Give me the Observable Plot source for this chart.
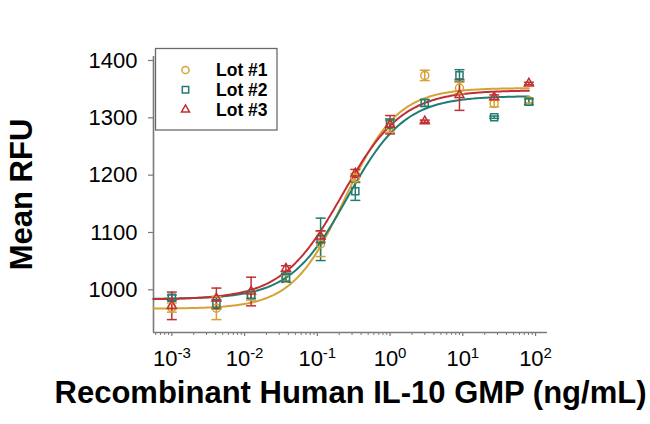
<!DOCTYPE html>
<html>
<head>
<meta charset="utf-8">
<script src="https://cdn.jsdelivr.net/npm/d3@7"></script>
<script src="https://cdn.jsdelivr.net/npm/@observablehq/plot@0.6"></script>
<style>
  html, body { margin: 0; padding: 0; background: white; }
</style>
</head>
<body>
<div id="chart"></div>
<script>
// ---- data ----
const conc = [0.001, 0.0041, 0.0123, 0.037, 0.111, 0.333, 1, 3, 9, 27, 81];
const lots = ["Lot #1", "Lot #2", "Lot #3"];
const lotColors = ["#D6A235", "#217C71", "#BF2F34"];
const lotSymbols = ["circle", "square", "triangle"];
const lotSymbolR = [4, 4, 3.3];

const lot1Mean = [969, 968, 990, 1020, 1080, 1195, 1285, 1374, 1352, 1325, 1330];
const lot1Err  = [8, 20, 8, 5, 22, 8, 10, 9, 10, 6, 4];
const lot2Mean = [986, 975, 991, 1021, 1088, 1172, 1290, 1326, 1374, 1301, 1328];
const lot2Err  = [5, 8, 6, 8, 37, 16, 8, 6, 10, 2, 5];
const lot3Mean = [972, 985, 997, 1037, 1093, 1203, 1288, 1294, 1340, 1336, 1360];
const lot3Err  = [24, 18, 25, 5, 10, 7, 16, 2, 27, 4, 2];

// 4-parameter logistic fit parameters per lot
const fitBottom = [967, 984, 983];
const fitTop    = [1352, 1338, 1348];
const fitEC50   = [0.24, 0.26, 0.22];
const fitHill   = [1.2, 1.1, 1.05];

const yTicks = [1000, 1100, 1200, 1300, 1400];
const xTickExponents = [-3, -2, -1, 0, 1, 2];
const xDomain = [0.00056, 146];
const yDomain = [925.5, 1407];
const xTitle = "Recombinant Human IL-10 GMP (ng/mL)";
const yTitle = "Mean RFU";

// ---- build tables ----
const means = [lot1Mean, lot2Mean, lot3Mean];
const errs = [lot1Err, lot2Err, lot3Err];
const points = [];
lots.forEach((lot, i) => conc.forEach((c, j) => {
  points.push({lot, x: c, mean: means[i][j], err: errs[i][j]});
}));

const curve = [];
lots.forEach((lot, i) => {
  const lo = Math.log10(xDomain[0]), hi = Math.log10(conc[conc.length - 1]);
  const n = 240;
  for (let k = 0; k <= n; k++) {
    const x = Math.pow(10, lo + (hi - lo) * k / n);
    const y = fitBottom[i] + (fitTop[i] - fitBottom[i]) / (1 + Math.pow(fitEC50[i] / x, fitHill[i]));
    curve.push({lot, x, y});
  }
});

const xMajor = xTickExponents.map(e => Math.pow(10, e));
const xMinor = [];
xTickExponents.forEach(e => { for (let m = 2; m <= 9; m++) { const v = m * Math.pow(10, e); if (v < xDomain[1] && v > xDomain[0]) xMinor.push(v); } });
[0.0006, 0.0007, 0.0008, 0.0009].forEach(v => { if (v > xDomain[0]) xMinor.push(v); });

const capSymbol = {
  draw(ctx, size) { const w = Math.sqrt(size / Math.PI); ctx.moveTo(-w, 0); ctx.lineTo(w, 0); }
};

const axisGray = "#7a7a7a";

const dotMarks = lots.map((lot, i) =>
  Plot.dot(points.filter(d => d.lot === lot), { x: "x", y: "mean", symbol: "lot", stroke: "lot", r: lotSymbolR[i], strokeWidth: 1.5, fill: "none" })
);

const chart = Plot.plot({
  width: 650,
  height: 424,
  marginLeft: 153,
  marginRight: 103,
  marginTop: 56,
  marginBottom: 92,
  style: { fontFamily: "Arial, 'Liberation Sans', sans-serif", background: "white", color: "black", overflow: "visible" },
  x: { type: "log", domain: xDomain },
  y: { domain: yDomain },
  color: { domain: lots, range: lotColors },
  symbol: { domain: lots, range: lotSymbols },
  marks: [
    Plot.axisX(xMinor, { tickSize: 3, tickFormat: () => "", stroke: axisGray, strokeWidth: 1, label: null }),
    Plot.axisX(xMajor, { tickSize: 4, tickPadding: 14, fontSize: 22, stroke: axisGray, strokeWidth: 1.2,
      tickFormat: d => "10^" + Math.round(Math.log10(d)), label: null }),
    Plot.axisY(yTicks, { tickSize: 5, tickPadding: 11, fontSize: 22, stroke: axisGray, strokeWidth: 1.2, label: null,
      tickFormat: d => String(d) }),
    Plot.ruleY([yDomain[0]], { stroke: axisGray, strokeWidth: 1.6 }),
    Plot.ruleX([xDomain[0]], { stroke: axisGray, strokeWidth: 1.6 }),
    Plot.line(curve, { x: "x", y: "y", z: "lot", stroke: "lot", strokeWidth: 2 }),
    Plot.ruleX(points, { x: "x", y1: d => d.mean - d.err, y2: d => d.mean + d.err, stroke: "lot", strokeWidth: 1.5 }),
    Plot.dot(points, { x: "x", y: d => d.mean - d.err, symbol: capSymbol, r: 5, stroke: "lot", strokeWidth: 1.5, fill: "none" }),
    Plot.dot(points, { x: "x", y: d => d.mean + d.err, symbol: capSymbol, r: 5, stroke: "lot", strokeWidth: 1.5, fill: "none" }),
    ...dotMarks,
    Plot.text([xTitle], { frameAnchor: "bottom", dy: 70, fontSize: 31, fontWeight: "bold", fill: "black", textAnchor: "middle" }),
    Plot.text([yTitle], { frameAnchor: "left", dx: -131, rotate: -90, fontSize: 31, fontWeight: "bold", fill: "black", textAnchor: "middle" })
  ]
});

// superscript exponents on the x tick labels
d3.select(chart).selectAll('g[aria-label="x-axis tick label"] text').each(function () {
  const t = this.textContent;
  if (!t.includes("^")) return;
  const [base, exp] = t.split("^");
  const sel = d3.select(this);
  sel.text(null);
  sel.append("tspan").text(base);
  sel.append("tspan").attr("font-size", 15).attr("dy", -8).text(exp);
});

// legend box
const svg = d3.select(chart);
const lg = svg.append("g").attr("font-family", "Arial, 'Liberation Sans', sans-serif").attr("text-anchor", "start");
lg.append("rect").attr("x", 155.5).attr("y", 48.5).attr("width", 121.5).attr("height", 81.5)
  .attr("fill", "white").attr("stroke", "#6a6a6a").attr("stroke-width", 1.3);
const symMap = { circle: d3.symbolCircle, square: d3.symbolSquare, triangle: d3.symbolTriangle };
lots.forEach((lot, i) => {
  const cy = 70 + i * 19.8;
  const r = lotSymbolR[i] * 0.9;
  lg.append("path")
    .attr("d", d3.symbol(symMap[lotSymbols[i]], r * r * Math.PI)())
    .attr("transform", `translate(185.5,${cy})`)
    .attr("fill", "none").attr("stroke", lotColors[i]).attr("stroke-width", 1.5);
  lg.append("text").attr("x", 216).attr("y", cy + 6).attr("font-size", 17.5).attr("font-weight", "bold")
    .attr("text-anchor", "start").attr("fill", "black").text(lot);
});

document.getElementById("chart").append(chart);
</script>
</body>
</html>
